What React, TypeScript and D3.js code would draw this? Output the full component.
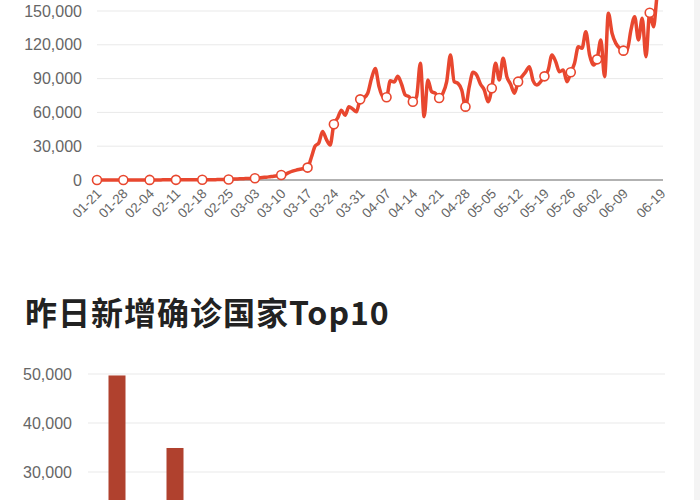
import React from "react";
import * as d3 from "d3";

// ---- Top chart data (daily new confirmed, 2020-01-21 .. 2020-06-19) ----
const startDate = "2020-01-21";
const dailyNew: number[] = [
  0, 0, 10, 10, 20, 20, 30,
  30, 40, 50, 60, 70, 80, 80,
  90, 100, 100, 110, 120, 120, 130,
  130, 140, 150, 160, 170, 180, 200,
  220, 240, 260, 300, 350, 400, 450,
  500, 700, 900, 1100, 1200, 1300, 1400,
  1500, 1800, 2200, 2500, 2900, 3300, 3800,
  4400, 5000, 6500, 7800, 8800, 9500, 10200,
  11000, 20000, 30000, 33000, 43000, 36000, 31000,
  49500, 55000, 62000, 57500, 65000, 63000, 60500,
  71600, 73000, 77000, 90000, 99000, 83000, 74000,
  73400, 88000, 87000, 92000, 85000, 75400, 73900,
  69500, 74000, 103600, 56200, 88800, 78400, 77000,
  72800, 77000, 87300, 111000, 87300, 85800, 79900,
  65100, 82800, 95600, 93000, 85000, 79900, 69500,
  81400, 103600, 88800, 108000, 91700, 85000, 77000,
  87300, 91700, 96000, 100600, 88000, 84300, 87300,
  92000, 97600, 111000, 105000, 96100, 97600, 87300,
  95600, 103600, 118300, 116900, 131600, 111000, 102000,
  107100, 124300, 91700, 148000, 130000, 121300, 117000,
  114800, 115400, 133100, 145000, 124300, 143600, 109400,
  148500, 136000, 165000, 180000,
];
const topYTicks = [0, 30000, 60000, 90000, 120000, 150000];
const xTickLabels = [
  "01-21", "01-28", "02-04", "02-11", "02-18", "02-25", "03-03", "03-10",
  "03-17", "03-24", "03-31", "04-07", "04-14", "04-21", "04-28", "05-05",
  "05-12", "05-19", "05-26", "06-02", "06-09", "06-19",
];

// ---- Bottom chart data ----
const barTitle = "昨日新增确诊国家Top10";
const countries = ["巴西", "美国", "印度", "俄罗斯", "墨西哥", "智利", "巴基斯坦", "沙特阿拉伯", "孟加拉国", "秘鲁"];
const countryNew = [49700, 34900, 13600, 7900, 5600, 5000, 4900, 4300, 3900, 3700];
const barYTicks = [0, 10000, 20000, 30000, 40000, 50000];

const fmt = d3.format(",");
const LINE = "#e8472f";
const BAR = "#b0412e";
const FONT = "'Liberation Sans', Arial, Helvetica, sans-serif";

export default function App() {
  const parse = d3.timeParse("%Y-%m-%d");
  const t0 = parse(startDate) as Date;
  const dates = dailyNew.map((_, i) => d3.timeDay.offset(t0, i));
  const fmtDate = d3.timeFormat("%m-%d");
  const labelSet = new Set(xTickLabels);

  const x = d3.scaleLinear().domain([0, dailyNew.length - 1]).range([97, 661]);
  const y = d3.scaleLinear().domain([0, 150000]).range([180, 11]);

  const line = d3
    .line<number>()
    .x((_, i) => x(i))
    .y((d) => y(d))
    .curve(d3.curveMonotoneX);

  const markerIdx = dailyNew.map((_, i) => i).filter((i) => i % 7 === 0);

  const bx = d3.scaleBand<string>().domain(countries).range([88, 668]);
  const by = d3.scaleLinear().domain([0, 50000]).range([619, 374]);
  const barW = 17;
  const visibleBarTicks = barYTicks.filter((t) => by(t) < 490);

  return (
    <svg
      width={700}
      height={500}
      style={{ position: "absolute", left: 0, top: 0, background: "#fff" }}
      fontFamily={FONT}
    >
      <rect x={0} y={0} width={700} height={500} fill="#fff" />
      <rect x={694} y={0} width={6} height={500} fill="#f4f4f4" />

      {/* Top chart grid */}
      {topYTicks.map((t) => (
        <g key={t}>
          {t !== 0 && (
            <line x1={97} x2={663} y1={y(t)} y2={y(t)} stroke="#e9e9e9" strokeWidth={1} />
          )}
          <text x={82} y={y(t)} dy="0.35em" textAnchor="end" fontSize={16} fill="#666">
            {fmt(t)}
          </text>
        </g>
      ))}
      <line x1={97} x2={663} y1={y(0)} y2={y(0)} stroke="#666" strokeWidth={1.2} />

      {/* x labels */}
      {dates.map((d, i) => {
        const lab = fmtDate(d);
        if (!labelSet.has(lab)) return null;
        const xx = x(i) + 2;
        return (
          <text
            key={i}
            transform={`translate(${xx},${191}) rotate(-45)`}
            textAnchor="end"
            dy="0.35em"
            fontSize={13.5}
            fill="#666"
          >
            {lab}
          </text>
        );
      })}

      {/* line */}
      <path d={line(dailyNew) || ""} fill="none" stroke={LINE} strokeWidth={3.5} strokeLinejoin="round" />
      {markerIdx.map((i) => (
        <circle key={i} cx={x(i)} cy={y(dailyNew[i])} r={4.5} fill="#fff" stroke={LINE} strokeWidth={1.6} />
      ))}

      {/* Bottom title */}
      <text
        x={25}
        y={325}
        fontSize={32}
        fontWeight={700}
        fill="#222"
        letterSpacing={1}
        fontFamily="'Noto Sans CJK SC', 'Noto Sans', sans-serif"
      >
        {barTitle}
      </text>

      {/* Bottom chart grid */}
      {barYTicks.map((t) => (
        <line key={t} x1={88} x2={665} y1={by(t)} y2={by(t)} stroke="#e9e9e9" strokeWidth={1} />
      ))}
      {visibleBarTicks.map((t) => (
        <text key={t} x={72} y={by(t)} dy="0.35em" textAnchor="end" fontSize={16} fill="#666">
          {fmt(t)}
        </text>
      ))}
      {countries.map((c, i) => (
        <rect
          key={c}
          x={(bx(c) as number) + bx.bandwidth() / 2 - barW / 2}
          y={by(countryNew[i])}
          width={barW}
          height={by(0) - by(countryNew[i])}
          fill={BAR}
        />
      ))}
    </svg>
  );
}
